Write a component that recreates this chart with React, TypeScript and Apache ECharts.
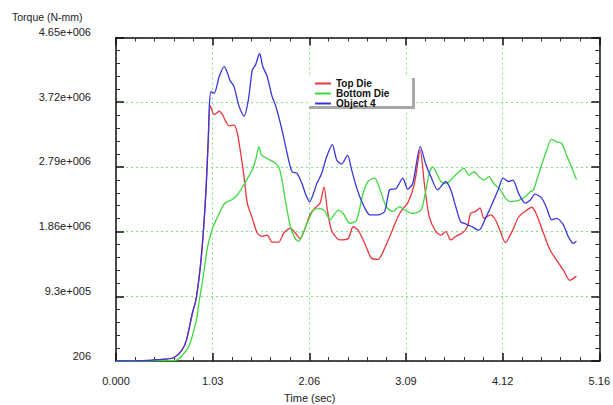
import React, { useEffect, useRef } from "react";
import * as echarts from "echarts";

const xTickLabels = ["0.000", "1.03", "2.06", "3.09", "4.12", "5.16"];
const yTickLabels = ["206", "9.3e+005", "1.86e+006", "2.79e+006", "3.72e+006", "4.65e+006"];
const seriesNames = ["Top Die", "Bottom Die", "Object 4"];
const seriesColors = ["#e8363c", "#3ed83e", "#3636dc"];

// [time (sec), torque (N-mm)]
const topDie: [number, number][] = [
  [0, 0], [0.2, 0.002e6], [0.35, 0.008e6], [0.45, 0.02e6], [0.604, 0.043e6], [0.7, 0.15e6],
  [0.752, 0.3e6], [0.816, 0.69e6], [0.853, 0.877e6], [0.9, 1.35e6], [0.935, 1.9e6], [0.961, 2.46e6],
  [0.985, 3.18e6], [1.007, 3.67e6], [1.049, 3.54e6], [1.102, 3.59e6], [1.137, 3.54e6], [1.173, 3.44e6],
  [1.208, 3.38e6], [1.261, 3.39e6], [1.296, 3.27e6], [1.332, 2.98e6], [1.367, 2.65e6],
  [1.402, 2.27e6], [1.455, 2.05e6], [1.508, 1.84e6], [1.561, 1.79e6], [1.614, 1.81e6],
  [1.667, 1.71e6], [1.738, 1.71e6], [1.791, 1.84e6], [1.862, 1.91e6], [1.914, 1.84e6],
  [1.967, 1.76e6], [2.02, 1.91e6], [2.073, 2.11e6], [2.126, 2.2e6], [2.179, 2.27e6],
  [2.221, 2.5e6], [2.257, 2.17e6], [2.303, 1.87e6], [2.391, 1.74e6], [2.479, 1.76e6],
  [2.532, 1.93e6], [2.585, 1.88e6], [2.656, 1.69e6], [2.726, 1.48e6], [2.797, 1.46e6],
  [2.868, 1.62e6], [2.938, 1.84e6], [3.009, 2.07e6], [3.062, 2.19e6], [3.115, 2.27e6],
  [3.186, 2.55e6], [3.249, 3.03e6], [3.292, 2.55e6], [3.345, 2.07e6], [3.415, 1.86e6],
  [3.468, 1.81e6], [3.521, 1.86e6], [3.574, 1.74e6], [3.627, 1.79e6], [3.698, 1.84e6],
  [3.751, 1.93e6], [3.786, 2.12e6], [3.839, 2.15e6], [3.886, 2.2e6], [3.928, 2.05e6],
  [3.999, 2.1e6], [4.051, 2.03e6], [4.104, 1.86e6], [4.157, 1.7e6], [4.228, 1.86e6],
  [4.298, 2.07e6], [4.368, 2.15e6], [4.439, 2.21e6], [4.492, 2.1e6], [4.563, 1.84e6],
  [4.633, 1.6e6], [4.704, 1.45e6], [4.775, 1.31e6], [4.845, 1.16e6], [4.916, 1.22e6],
];

const bottomDie: [number, number][] = [
  [0, 0], [0.35, 0.0], [0.5, 0.004e6], [0.646, 0.014e6], [0.72, 0.1e6], [0.784, 0.23e6],
  [0.858, 0.59e6], [0.89, 0.877e6], [0.925, 1.16e6], [0.978, 1.64e6], [1.031, 1.91e6], [1.084, 2.07e6],
  [1.137, 2.22e6], [1.173, 2.28e6], [1.226, 2.31e6], [1.279, 2.36e6], [1.332, 2.46e6],
  [1.385, 2.58e6], [1.455, 2.75e6], [1.491, 2.89e6], [1.526, 3.08e6], [1.554, 2.96e6],
  [1.614, 2.91e6], [1.685, 2.86e6], [1.738, 2.79e6], [1.773, 2.6e6], [1.808, 2.31e6],
  [1.862, 1.93e6], [1.914, 1.76e6], [1.95, 1.72e6], [2.003, 1.86e6], [2.056, 2.03e6],
  [2.109, 2.17e6], [2.179, 2.19e6], [2.232, 2.15e6], [2.285, 2.03e6], [2.338, 2.12e6],
  [2.374, 2.17e6], [2.426, 2.12e6], [2.497, 1.98e6], [2.567, 2.02e6], [2.638, 2.41e6],
  [2.691, 2.58e6], [2.762, 2.63e6], [2.815, 2.48e6], [2.885, 2.22e6], [2.956, 2.15e6],
  [3.027, 2.22e6], [3.08, 2.17e6], [3.168, 2.12e6], [3.257, 2.17e6], [3.309, 2.46e6],
  [3.345, 2.7e6], [3.38, 2.79e6], [3.415, 2.72e6], [3.468, 2.58e6], [3.521, 2.55e6],
  [3.574, 2.6e6], [3.645, 2.7e6], [3.715, 2.77e6], [3.768, 2.67e6], [3.821, 2.72e6],
  [3.874, 2.65e6], [3.928, 2.6e6], [3.981, 2.65e6], [4.033, 2.55e6], [4.104, 2.46e6],
  [4.157, 2.34e6], [4.21, 2.29e6], [4.298, 2.31e6], [4.368, 2.36e6], [4.421, 2.43e6],
  [4.457, 2.46e6], [4.492, 2.6e6], [4.545, 2.82e6], [4.598, 3.03e6], [4.651, 3.19e6],
  [4.704, 3.15e6], [4.757, 3.13e6], [4.81, 2.96e6], [4.863, 2.79e6], [4.916, 2.61e6],
];

const object4: [number, number][] = [
  [0, 0], [0.2, 0.002e6], [0.35, 0.008e6], [0.45, 0.02e6], [0.604, 0.043e6], [0.7, 0.15e6],
  [0.752, 0.3e6], [0.816, 0.69e6], [0.853, 0.877e6], [0.9, 1.35e6], [0.935, 1.9e6], [0.961, 2.46e6],
  [0.985, 3.18e6], [0.996, 3.66e6], [1.014, 3.87e6], [1.049, 3.85e6], [1.102, 4.09e6], [1.155, 4.23e6],
  [1.19, 4.14e6], [1.215, 4.04e6], [1.261, 3.94e6], [1.314, 3.66e6], [1.367, 3.52e6],
  [1.413, 3.75e6], [1.455, 4.18e6], [1.491, 4.26e6], [1.533, 4.42e6], [1.568, 4.23e6],
  [1.614, 4.09e6], [1.667, 3.8e6], [1.702, 3.68e6], [1.773, 3.32e6], [1.826, 2.99e6],
  [1.879, 2.72e6], [1.932, 2.7e6], [1.985, 2.55e6], [2.027, 2.39e6], [2.067, 2.29e6],
  [2.109, 2.41e6], [2.144, 2.55e6], [2.197, 2.7e6], [2.25, 2.94e6], [2.31, 3.11e6],
  [2.356, 2.89e6], [2.409, 2.83e6], [2.472, 2.96e6], [2.515, 2.75e6], [2.567, 2.5e6],
  [2.603, 2.36e6], [2.656, 2.2e6], [2.709, 2.1e6], [2.797, 2.1e6], [2.868, 2.15e6],
  [2.921, 2.46e6], [2.991, 2.48e6], [3.062, 2.63e6], [3.115, 2.47e6], [3.168, 2.55e6],
  [3.249, 3.08e6], [3.309, 2.82e6], [3.362, 2.65e6], [3.433, 2.46e6], [3.521, 2.58e6],
  [3.574, 2.46e6], [3.627, 2.22e6], [3.68, 2.0e6], [3.733, 1.97e6], [3.786, 1.94e6],
  [3.875, 1.88e6], [3.945, 2.05e6], [4.033, 2.31e6], [4.086, 2.48e6], [4.132, 2.63e6],
  [4.192, 2.58e6], [4.238, 2.6e6], [4.298, 2.41e6], [4.368, 2.27e6], [4.421, 2.31e6],
  [4.474, 2.4e6], [4.545, 2.34e6], [4.598, 2.2e6], [4.651, 2.03e6], [4.704, 2.05e6],
  [4.775, 1.96e6], [4.828, 1.79e6], [4.881, 1.69e6], [4.916, 1.72e6],
];

const X_MIN = 0;
const X_MAX = 5.16;
const X_STEP = 1.032;
const Y_MIN = 0;
const Y_MAX = 4.65e6;
const Y_STEP = 0.93e6;

const FONT = "Arial, 'Liberation Sans', sans-serif";

export default function App() {
  const ref = useRef<HTMLDivElement>(null);

  useEffect(() => {
    if (!ref.current) return;
    const chart = echarts.init(ref.current, undefined, { renderer: "svg" });

    const frameLine = () => ({ show: true, onZero: false, lineStyle: { color: "#111111", width: 1.5 } });
    const majorTick = () => ({ show: true, inside: true, length: 8, lineStyle: { color: "#111111", width: 1.5 } });
    const minorTick = () => ({ show: true, splitNumber: 5, length: 4, lineStyle: { color: "#333333", width: 1 } });
    const grid = () => ({ show: true, lineStyle: { color: "#7fe07f", width: 1, type: [2, 3] } });
    const labelStyle = { fontSize: 11, color: "#222", fontFamily: FONT };

    const xLabel = (v: number) => xTickLabels[Math.round(v / X_STEP)] ?? "";
    const yLabel = (v: number) => yTickLabels[Math.round(v / Y_STEP)] ?? "";

    const datasets = [topDie, bottomDie, object4];

    chart.setOption({
      animation: false,
      backgroundColor: "#ffffff",
      grid: { left: 116, right: 10, top: 37.5, bottom: 44, containLabel: false },
      xAxis: [
        {
          type: "value", position: "bottom", min: X_MIN, max: X_MAX, interval: X_STEP,
          axisLine: frameLine(), axisTick: majorTick(), minorTick: minorTick(),
          axisLabel: { ...labelStyle, margin: 14, formatter: xLabel, showMinLabel: true, showMaxLabel: true },
          splitLine: grid(), minorSplitLine: { show: false },
        },
        {
          type: "value", position: "top", min: X_MIN, max: X_MAX, interval: X_STEP,
          axisLine: frameLine(), axisTick: majorTick(), minorTick: minorTick(),
          axisLabel: { show: false }, splitLine: { show: false },
        },
      ],
      yAxis: [
        {
          type: "value", position: "left", min: Y_MIN, max: Y_MAX, interval: Y_STEP,
          axisLine: frameLine(), axisTick: majorTick(), minorTick: minorTick(),
          axisLabel: {
            ...labelStyle, margin: 25, formatter: yLabel, verticalAlign: "bottom", lineHeight: 11,
            showMinLabel: true, showMaxLabel: true,
          },
          splitLine: grid(), minorSplitLine: { show: false },
        },
        {
          type: "value", position: "right", min: Y_MIN, max: Y_MAX, interval: Y_STEP,
          axisLine: frameLine(), axisTick: majorTick(), minorTick: minorTick(),
          axisLabel: { show: false }, splitLine: { show: false },
        },
      ],
      legend: {
        data: seriesNames.map((n) => ({ name: n, icon: "rect" })),
        orient: "vertical",
        left: 315,
        top: 78.5,
        padding: 0,
        itemGap: 0,
        itemWidth: 16,
        itemHeight: 2,
        z: 6,
        textStyle: { fontSize: 10, fontWeight: "bold", fontFamily: FONT, color: "#111", lineHeight: 9 },
      },
      graphic: [
        { type: "rect", z: 3, shape: { x: 309, y: 76, width: 104, height: 31 }, style: { fill: "#ffffff" } },
        { type: "rect", z: 3, shape: { x: 412, y: 78, width: 3, height: 31 }, style: { fill: "#a8a8a8" } },
        { type: "rect", z: 3, shape: { x: 309, y: 106, width: 106, height: 3 }, style: { fill: "#a8a8a8" } },
        {
          type: "text", z: 5, left: 12, top: 11,
          style: { text: "Torque (N-mm)", fontSize: 10.5, fill: "#222", fontFamily: FONT },
        },
        {
          type: "text", z: 5, left: 284, top: 392,
          style: { text: "Time (sec)", fontSize: 11, fill: "#222", fontFamily: FONT },
        },
      ],
      series: datasets.map((d, i) => ({
        name: seriesNames[i],
        type: "line",
        xAxisIndex: 0,
        yAxisIndex: 0,
        data: d,
        symbol: "none",
        showSymbol: false,
        smooth: 0.25,
        z: 2 + i,
        lineStyle: { color: seriesColors[i], width: 1.3 },
        itemStyle: { color: seriesColors[i] },
      })),
    });

    return () => chart.dispose();
  }, []);

  return (
    <div
      ref={ref}
      style={{ position: "absolute", left: 0, top: 0, width: 613, height: 405, background: "#fff" }}
    />
  );
}
